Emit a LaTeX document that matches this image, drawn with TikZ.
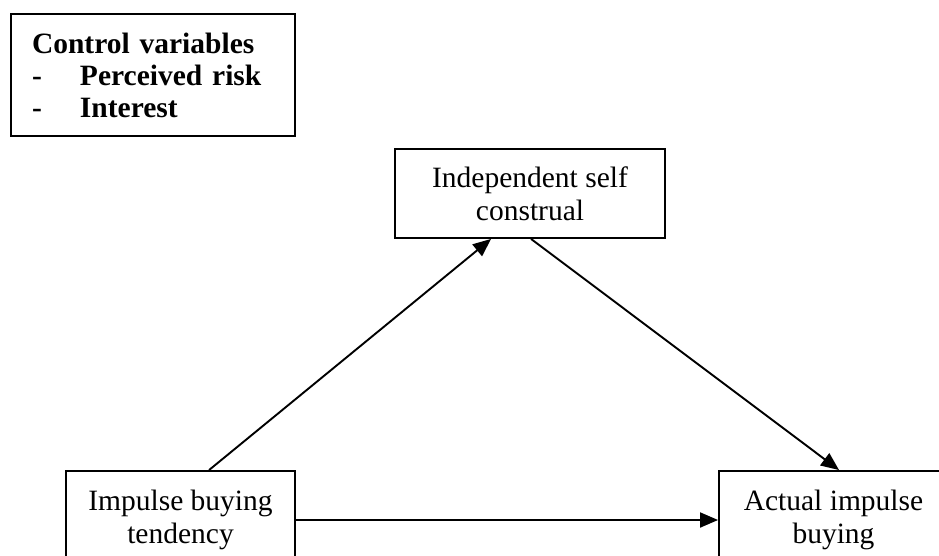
\documentclass[tikz,border=0pt]{standalone}
\usepackage{fontspec}
\setmainfont{Liberation Serif}
\usetikzlibrary{arrows.meta}
\tikzset{
  box/.style={draw, rectangle, line width=1.9pt, inner sep=0pt, align=center,
    font=\fontsize{29.5}{33}\selectfont},
  link/.style={line width=1.9pt, -{Triangle[length=18pt,width=15pt]}},
}
\begin{document}
\begin{tikzpicture}[x=1pt,y=-1pt]
  \useasboundingbox (0,0) rectangle (939,556);
  % control variables
  \node[box, align=left, text width=242pt, inner xsep=21pt, minimum height=122pt,
        font=\bfseries\fontsize{29.5}{32}\selectfont] (ctrl) at (153,75)
    {Control variables\\\makebox[48pt][l]{-}Perceived risk\\\makebox[48pt][l]{-}Interest};
  % model boxes
  \node[box, minimum width=270pt, minimum height=89pt] (ind) at (530,193.5)
    {Independent self\\construal};
  \node[box, minimum width=229pt, minimum height=98pt] (imp) at (180.5,520)
    {Impulse buying\\tendency};
  \node[box, minimum width=229pt, minimum height=98pt] (act) at (833.5,520)
    {Actual impulse\\buying};
  % paths
  \draw[link] ([xshift=144pt]imp.north west) -- ([xshift=97pt]ind.south west);
  \draw[link] ([xshift=137pt]ind.south west) -- ([xshift=121pt]act.north west);
  \draw[link] (imp.east) -- (act.west);
\end{tikzpicture}
\end{document}
